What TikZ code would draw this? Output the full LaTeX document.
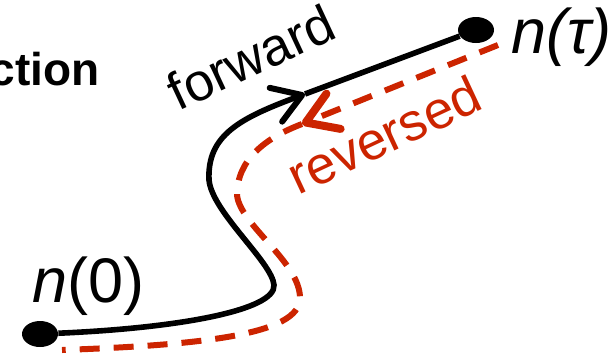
\documentclass[tikz,border=0pt]{standalone}
\usepackage{fontspec}
\setmainfont{Liberation Sans}
\usepackage{xcolor}
\usetikzlibrary{arrows.meta,shapes.geometric}

\definecolor{revred}{RGB}{204,36,0}

\begin{document}
\begin{tikzpicture}[
    x=0.5pt, y=-0.5pt,
    dot/.style={
        ellipse,
        fill=black,
        minimum width=18pt,
        minimum height=13pt,
        inner sep=0pt
    },
    pathlabel/.style={
        inner sep=0pt,
        anchor=base,
        rotate=25,
        font=\fontsize{26.5}{31}\selectfont
    },
    statelabel/.style={
        inner sep=0pt,
        anchor=base west,
        font=\fontsize{31.5}{36}\selectfont
    },
    fwdline/.style={
        line width=2.8pt
    },
    revline/.style={
        revred,
        line width=3pt,
        dash pattern=on 10pt off 7pt
    },
    fwdtip/.style={
        -{Straight Barb[length=14pt,width=18pt,line width=3pt,round]}
    },
    revtip/.style={
        -{Straight Barb[length=15pt,width=19pt,line width=4pt,round]}
    }
]
\useasboundingbox (0,0) rectangle (615,361);

% Cut-off heading
\node[inner sep=0pt, anchor=base east, font=\fontsize{23}{28}\selectfont\bfseries]
    (heading) at (100,85) {ction};

% End points
\node[dot] (n0dot) at (40,334) {};
\node[dot] (ntaudot) at (476,30) {};

\node[statelabel] (n0lbl) at (32,302) {\textit{n}(0)};
\node[statelabel] (ntaulbl) at (511,53) {\textit{n(τ)}};

% Forward path
\coordinate (fwdmid) at (305,94);

\draw[fwdline, fwdtip] (n0dot)
    .. controls (180,328) and (276,310) .. (274,285)
    .. controls (272,262) and (212,212) .. (209,180)
    .. controls (207,135) and (240,118) .. (fwdmid);
\draw[fwdline] (fwdmid) -- (ntaudot);

% Reversed path
\coordinate (revstart) at (498,45);
\coordinate (revmid) at (302,124);
\coordinate (revend) at (62,350);

\draw[revline, revtip] (revstart) -- (revmid);
\draw[revline] (revmid)
    .. controls (265,138) and (237,160) .. (237,195)
    .. controls (240,225) and (300,262) .. (300,298)
    .. controls (300,335) and (200,345) .. (revend);

% Path labels
\node[pathlabel] (fwdlbl) at (259,74) {forward};
\node[pathlabel, text=revred] (revlbl) at (392,152) {reversed};

\end{tikzpicture}
\end{document}
